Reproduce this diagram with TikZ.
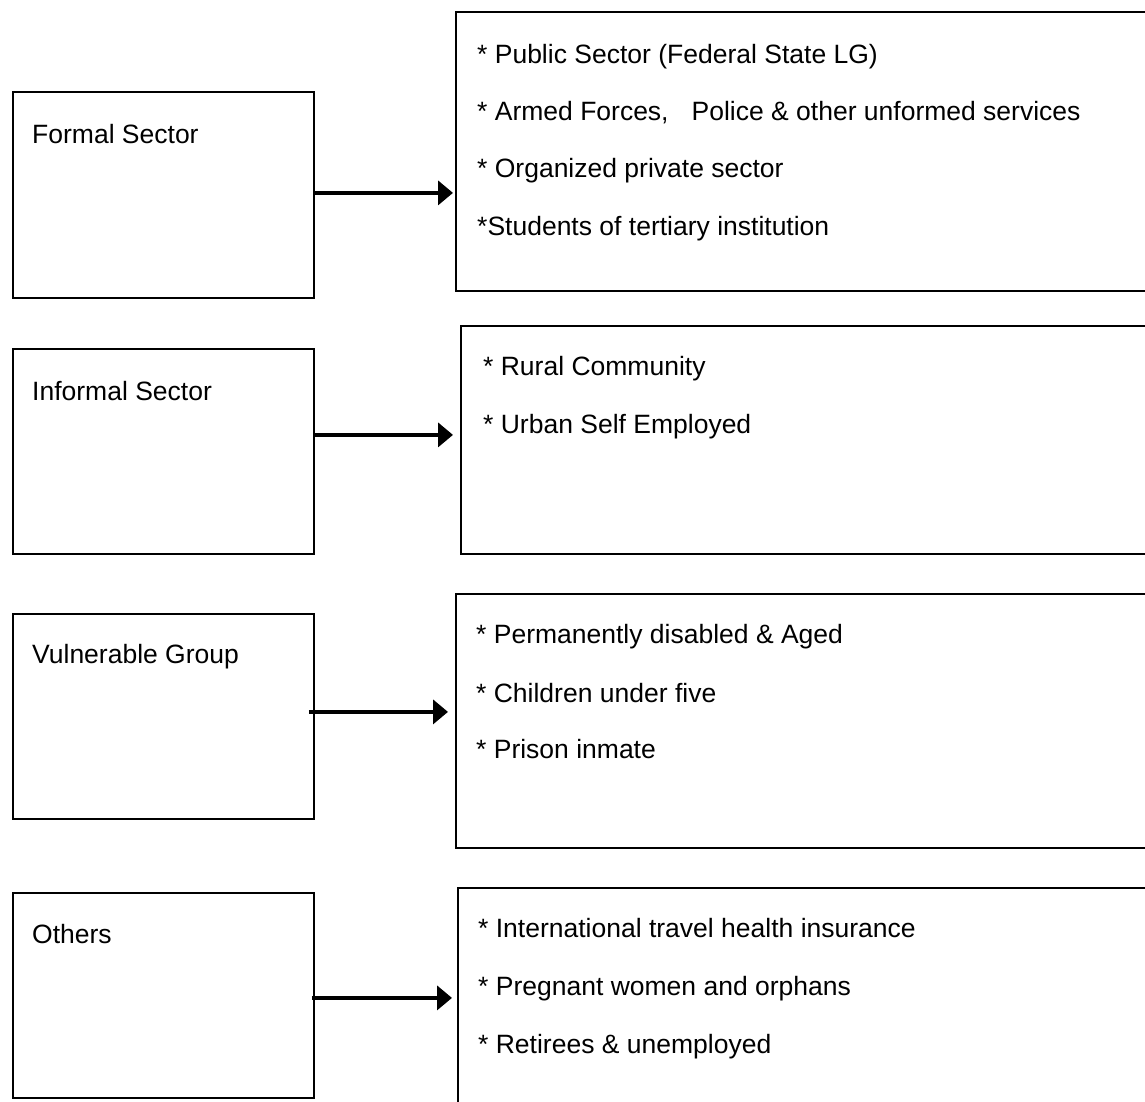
\documentclass[tikz,border=0pt]{standalone}
\usepackage{fontspec}
\setmainfont{Liberation Sans}
\usetikzlibrary{arrows.meta}
\begin{document}
\begin{tikzpicture}[x=1pt,y=-1pt,
  box/.style={draw=black, line width=1.8pt, rectangle, inner sep=0pt, anchor=north west},
  txt/.style={anchor=base west, inner sep=0pt, font=\fontsize{26.5}{32}\selectfont},
  arr/.style={draw=black, line width=4pt, -{Triangle[length=15pt,width=24pt]}}]

% page frame
\useasboundingbox (0,0) rectangle (1145,1101);
\fill[white] (0,0) rectangle (1145,1101);
\clip (0,0) rectangle (1145,1101);

% category boxes (left)
\node[box, minimum width=301pt, minimum height=206pt] (l1) at (12,91) {};
\node[box, minimum width=301pt, minimum height=205pt] (l2) at (12,348) {};
\node[box, minimum width=301pt, minimum height=205pt] (l3) at (12,613) {};
\node[box, minimum width=301pt, minimum height=205pt] (l4) at (12,892) {};

\node[txt] (t1) at (32,143) {Formal Sector};
\node[txt] (t2) at (32,400) {Informal Sector};
\node[txt] (t3) at (32,663) {Vulnerable Group};
\node[txt] (t4) at (32,943) {Others};

% member boxes (right), running off the page edge
\node[box, minimum width=720pt, minimum height=279pt] (r1) at (455,11) {};
\node[box, minimum width=720pt, minimum height=228pt] (r2) at (460,325) {};
\node[box, minimum width=720pt, minimum height=254pt] (r3) at (455,593) {};
\node[box, minimum width=720pt, minimum height=260pt] (r4) at (457,887) {};

\node[txt] (a1) at (477,63)  {* Public Sector (Federal State LG)};
\node[txt] (a2) at (477,120) {* Armed Forces,\hspace{23pt}Police \& other unformed services};
\node[txt] (a3) at (477,177) {* Organized private sector};
\node[txt] (a4) at (477,235) {*Students of tertiary institution};

\node[txt] (b1) at (483,375) {* Rural Community};
\node[txt] (b2) at (483,433) {* Urban Self Employed};

\node[txt] (c1) at (476,643) {* Permanently disabled \& Aged};
\node[txt] (c2) at (476,702) {* Children under five};
\node[txt] (c3) at (476,758) {* Prison inmate};

\node[txt] (d1) at (478,937)  {* International travel health insurance};
\node[txt] (d2) at (478,995)  {* Pregnant women and orphans};
\node[txt] (d3) at (478,1053) {* Retirees \& unemployed};

% connectors
\draw[arr, shorten >=2pt] ([yshift=2pt]l1.east) -- ([yshift=2pt]l1.east -| r1.west);
\draw[arr, shorten >=7pt] ([yshift=16.5pt]l2.east) -- ([yshift=16.5pt]l2.east -| r2.west);
\draw[arr, shorten >=7pt, shorten <=-6pt] ([yshift=4.5pt]l3.east) -- ([yshift=4.5pt]l3.east -| r3.west);
\draw[arr, shorten >=5pt, shorten <=-3pt] ([yshift=-2.5pt]l4.east) -- ([yshift=-2.5pt]l4.east -| r4.west);
\end{tikzpicture}
\end{document}
